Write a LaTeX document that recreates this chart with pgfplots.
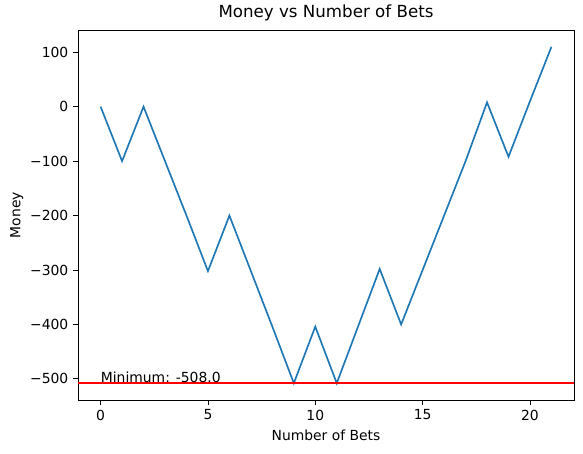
\documentclass[border=0pt]{standalone}
\usepackage{fontspec}
\setmainfont{DejaVu Sans}
\usepackage{pgfplots}
\pgfplotsset{compat=1.18}
\definecolor{mplblue}{HTML}{1F77B4}

\begin{document}
\begin{tikzpicture}
\begin{axis}[
    scale only axis,
    width=357pt,
    height=266.4pt,
    xmin=-1.05, xmax=22.05,
    ymin=-538.9, ymax=140.9,
    xtick={0,5,10,15,20},
    ytick={-500,-400,-300,-200,-100,0,100},
    yticklabels={−500,−400,−300,−200,−100,0,100},
    /pgf/number format/assume math mode=true,
    tick label style={font=\fontsize{10}{12}\selectfont},
    label style={font=\fontsize{10}{12}\selectfont},
    title style={font=\fontsize{12}{14}\selectfont, yshift=-3pt},
    tick align=outside,
    tick pos=left,
    major tick length=3.5pt,
    every tick/.style={black, line width=0.6pt},
    axis line style={line width=0.6pt},
    title={Money vs Number of Bets},
    xlabel={Number of Bets},
    ylabel={Money},
    ylabel style={yshift=-2pt},
    clip=true,
]
\addplot[mplblue, line width=1.2pt] coordinates {
    (0,0) (1,-100) (2,0) (3,-100) (4,-200) (5,-302) (6,-200) (7,-302)
    (8,-404) (9,-508) (10,-404) (11,-508) (12,-403) (13,-298) (14,-400)
    (15,-300) (16,-200) (17,-100) (18,8) (19,-92) (20,10) (21,110)
};
\addplot[red, line width=1.2pt] coordinates {(-1.05,-508) (22.05,-508)};
\node[anchor=south west, inner sep=0pt, font=\fontsize{10}{12}\selectfont] at (axis cs:0,-508) {Minimum: -508.0};
\end{axis}
\pgfresetboundingbox
\path (current axis.south west) ++(-56.2pt,-38.2pt) coordinate (bl);
\path (current axis.north east) ++(6.5pt,21.6pt) coordinate (tr);
\path (bl) rectangle (tr);
\end{tikzpicture}
\end{document}
